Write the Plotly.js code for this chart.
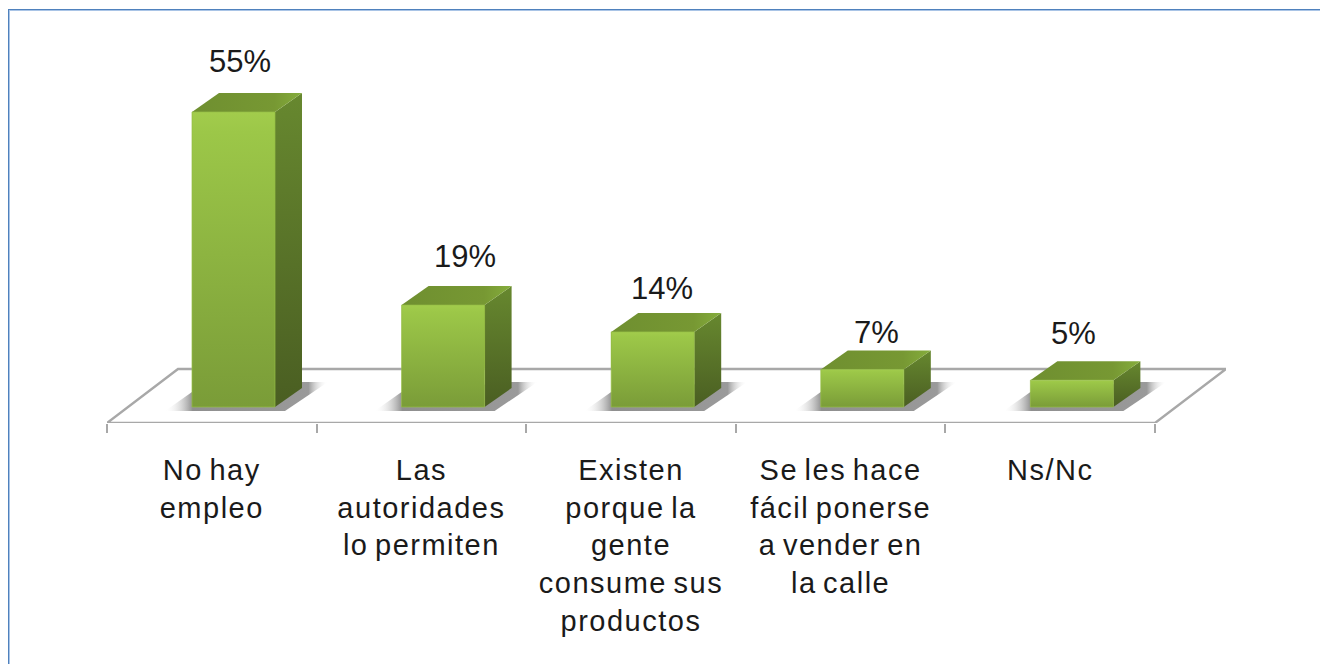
<!DOCTYPE html>
<html>
<head>
<meta charset="utf-8">
<script src="https://cdn.plot.ly/plotly-3.0.1.min.js"></script>
<style>
html,body{margin:0;padding:0;background:#fff;overflow:hidden}
#chart{position:absolute;left:0;top:0;width:1320px;height:664px}
.edge{position:absolute;z-index:5;pointer-events:none}
.xtick text{letter-spacing:1.5px;word-spacing:-3px}
</style>
</head>
<body>
<div id="chart"></div>
<div class="edge" style="left:8px;top:9px;right:0;height:1px;background:#4f81bd"></div>
<div class="edge" style="left:8px;top:10px;right:0;height:1px;background:#a9c4e6"></div>
<div class="edge" style="left:8px;top:9px;bottom:0;width:1px;background:#4f81bd"></div>
<div class="edge" style="left:9px;top:10px;bottom:0;width:1px;background:#a9c4e6"></div>
<script>
const categories = ["No hay<br>empleo", "Las<br>autoridades<br>lo permiten", "Existen<br>porque la<br>gente<br>consume sus<br>productos", "Se les hace<br>fácil ponerse<br>a vender en<br>la calle", "Ns/Nc"];
const values = [55, 19, 14, 7, 5];
const labelShiftX = [28, 44, 31, 36, 23];
const labelShiftY = [50, 49, 43, 37, 47];

const W = 1320, H = 664;
const plotL = 107, plotR = 1226, plotT = 10, plotB = 423;
const catPx = 209.6, pxPerPct = 5.364, baseGapPx = 16;
const sx = p => p / catPx;
const sy = p => p / pxPerPct;
const xMin = -0.5, xMax = xMin + (plotR - plotL) / catPx;
const yMin = -sy(baseGapPx), yMax = yMin + (plotB - plotT) / pxPerPct;

const barW = 83 / catPx, barShift = 21.7 / catPx;
const depthX = sx(27), depthY = sy(19);
const idx = values.map((_, i) => i);

const poly = (x, y, extra) => Object.assign({
  type: 'scatter', mode: 'lines', x: x.concat(x[0]), y: y.concat(y[0]),
  fill: 'toself', line: {width: 0}, hoverinfo: 'skip', showlegend: false
}, extra);
const grad = (type, stops) => ({type, colorscale: stops});

const traces = [];
// floor
const fx0 = xMin, fx1 = xMin + 5, fdx = sx(71), fy0 = yMin, fy1 = yMin + sy(54);
traces.push(poly([fx0, fx0 + fdx, fx1 + fdx, fx1], [fy0, fy1, fy1, fy0],
  {fillcolor: '#ffffff', line: {color: '#a8a8a8', width: 2.4}, cliponaxis: false}));

// value bars (front faces, true scale)
traces.push({type: 'bar', x: idx, y: values, width: barW, offset: barShift - barW / 2,
  marker: {color: '#8cb040', line: {width: 0}}, hoverinfo: 'x+y', showlegend: false});

values.forEach((v, i) => {
  const L = i + barShift - barW / 2, R = L + barW;
  // shadow on the floor
  traces.push(poly(
    [L - sx(27), L, R + sx(27), R + sx(53), R + sx(10)],
    [-sy(4), sy(15), sy(25), sy(25), -sy(4)],
    {fillgradient: grad('horizontal', [[0, 'rgba(255,255,255,0)'], [0.17, '#8f8f8f'], [0.88, '#9a9a9a'], [1, 'rgba(255,255,255,0)']])}));
  // side face
  traces.push(poly([R, R + depthX, R + depthX, R], [0, depthY, v + depthY, v],
    {fillgradient: grad('vertical', [[0, '#4a5e22'], [1, '#67882f']])}));
  // top face
  traces.push(poly([L, L + depthX, R + depthX, R], [v, v + depthY, v + depthY, v],
    {fillgradient: grad('horizontal', [[0, '#6f8f30'], [0.75, '#779833'], [1, '#85ad3c']])}));
  // front face shading
  traces.push(poly([L, R, R, L], [0, 0, v, v],
    {fillgradient: grad('vertical', [[0, '#7a9c38'], [0.93, '#9cc748'], [1, '#a2cc4c']]),
     line: {color: 'rgba(150,190,70,0.7)', width: 1}}));
});

// tick marks at category boundaries
const boundaries = [0, 1, 2, 3, 4, 5].map(k => k - 0.5);

const annotations = values.map((v, i) => ({
  x: i, y: v, xref: 'x', yref: 'y', text: v + '%', showarrow: false,
  xanchor: 'center', yanchor: 'middle', xshift: labelShiftX[i], yshift: labelShiftY[i],
  font: {family: 'Liberation Sans, Arial, sans-serif', size: 31, color: '#1a1a1a'}
}));

const layout = {
  width: W, height: H, autosize: false,
  margin: {l: plotL, r: W - plotR, t: plotT, b: H - plotB, pad: 0},
  paper_bgcolor: '#ffffff', plot_bgcolor: 'rgba(0,0,0,0)',
  showlegend: false, bargap: 0,
  font: {family: 'Liberation Sans, Arial, sans-serif', color: '#1a1a1a'},
  xaxis: {
    type: 'linear', range: [xMin, xMax], showgrid: false, zeroline: false, showline: false,
    tickmode: 'array', tickvals: idx, ticktext: categories, ticks: '', ticklabelstandoff: 27,
    tickangle: 0, tickfont: {size: 29, family: 'Liberation Sans, Arial, sans-serif', color: '#1a1a1a'},
    fixedrange: true
  },
  xaxis2: {
    overlaying: 'x', side: 'bottom', anchor: 'y', type: 'linear', range: [xMin, xMax],
    showgrid: false, zeroline: false, showline: false, showticklabels: false,
    tickmode: 'array', tickvals: boundaries, ticks: 'outside', ticklen: 9, tickwidth: 2, tickcolor: '#a8a8a8',
    fixedrange: true
  },
  yaxis: {range: [yMin, yMax], visible: false, fixedrange: true},
  annotations
};
// keep the boundary-tick axis alive with an empty trace
traces.push({type: 'scatter', x: [xMin], y: [yMin], xaxis: 'x2', mode: 'none', hoverinfo: 'skip', showlegend: false});

Plotly.newPlot('chart', traces, layout, {displayModeBar: false, staticPlot: true});
</script>
</body>
</html>
